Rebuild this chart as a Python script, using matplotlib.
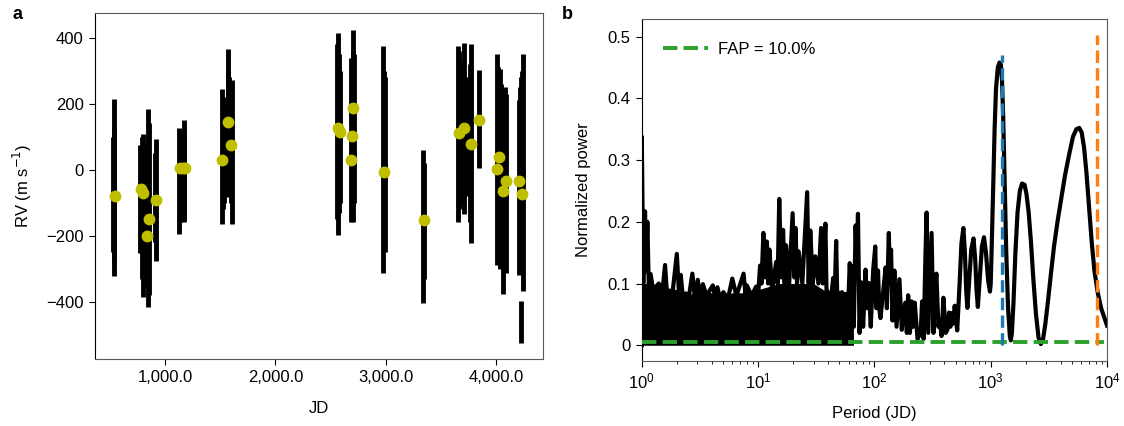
import numpy as np
import matplotlib
matplotlib.use("Agg")
import matplotlib.pyplot as plt
from matplotlib.ticker import FuncFormatter, FixedLocator

plt.rcParams['font.family'] = ['Liberation Sans', 'DejaVu Sans']
plt.rcParams['font.size'] = 12

# ---
# Panel a: RV measurements (black bars) and binned values (yellow dots)
# ---
bar_jd = [532, 536, 528, 534,
          770, 778, 790, 800, 812, 820, 846, 855, 838, 913, 908,
          1127, 1135, 1140, 1155, 1165, 1172,
          1518, 1524, 1530, 1567, 1573, 1580, 1603, 1596,
          2560, 2566, 2571, 2577, 2585, 2690, 2696, 2702, 2708, 2710,
          2980, 2986, 2990,
          3343, 3346,
          3660, 3668, 3676, 3690, 3700, 3713, 3730, 3774, 3768, 3849,
          4010, 4018, 4025, 4040, 4050, 4064, 4080, 4094, 4215, 4222, 4230, 4246, 4240, 4228]
bar_lo = [-321, -280, -250, -200,
          -254, -230, -330, -386, -300, -360, -416, -380, -330, -277, -220,
          -194, -160, -150, -130, -150, -159,
          -166, -120, -100, -83, -60, -50, -164, -100,
          -150, -120, -199, -130, -100, -159, -120, -159, -110, -100,
          -312, -240, -250,
          -404, -330,
          -159, -120, -110, -100, -90, -133, -80, -222, -160, 5,
          -290, -250, -250, -300, -260, -376, -300, -312, -320, -280, -300, -368, -300, -525]
bar_hi = [214, 130, 100, 60,
          74, 50, 100, 109, 80, 60, 185, 140, 100, 92, 50,
          127, 110, 100, 110, 120, 152,
          245, 220, 200, 365, 300, 280, 273, 230,
          380, 330, 415, 350, 300, 340, 300, 424, 360, 350,
          375, 300, 280,
          61, 20,
          374, 360, 320, 300, 330, 385, 280, 380, 320, 303,
          351, 310, 300, 306, 260, 200, 250, 228, 210, 250, 280, 352, 300, -399]

bin_jd = [543, 777, 800, 849, 831, 916, 1133, 1156, 1179, 1518, 1567, 1597,
          2571, 2586, 2707, 2692, 2683, 2986, 3346, 3668, 3710, 3771, 3849,
          4034, 4010, 4097, 4064, 4209, 4237]
bin_rv = [-80, -58, -71, -149, -201, -93, 5, 5, 5, 30, 144, 76,
          126, 114, 188, 102, 30, -7, -154, 111, 126, 78, 150,
          37, 2, -33, -65, -35, -73]

# ---
# Panel b: periodogram
# ---
floor_period = [1.0, 1.2, 1.5, 2.0, 2.5, 3.0, 4.0, 5.0, 6.0, 8.0, 10.0, 15.0,
                20.0, 30.0, 40.0, 50.0, 60.0, 66.0]
floor_power = [0.10, 0.10, 0.095, 0.09, 0.08, 0.09, 0.085, 0.08, 0.085, 0.085,
               0.09, 0.10, 0.10, 0.10, 0.085, 0.08, 0.08, 0.07]

period = [1.0, 1.0, 1.03, 1.066, 1.09, 1.116, 1.15, 1.19, 1.25, 1.4, 1.5, 1.585,
          1.65, 1.85, 2.0, 2.08, 2.16, 2.25, 2.39, 2.5, 2.72, 2.85, 3.03, 3.15,
          3.35, 3.6, 4.08, 4.25, 4.47, 4.7, 5.03, 5.5, 6.0, 6.5, 7.5, 7.8, 8.0,
          8.8, 9.6, 10.0, 10.4, 10.7, 11.1, 11.5, 11.9, 12.2, 12.5, 13.2, 14.3,
          14.7, 15.2, 15.8, 16.4, 16.9, 17.4, 18.5, 19.8, 20.5, 21.0, 21.6, 22.3,
          24.0, 26.4, 27.2, 28.1, 29.5, 31.0, 33.0, 34.8, 36.0, 37.9, 38.8, 39.6,
          42.0, 44.2, 45.5, 46.9, 48.0, 49.3, 51.0, 52.7, 54.5, 56.3, 59.0, 61.4,
          62.8, 64.2, 66.5, 68.9, 70.5, 72.2, 74.5, 77.1, 80.0, 83.9, 86.5, 89.3,
          93.0, 97.6, 101.7, 104.0, 107.4, 110.0, 112.7, 118.0, 124.7, 128.0,
          133.0, 136.0, 139.0, 143.0, 148.5, 155.0, 164.0, 172.0, 180.0, 185.0,
          190.0, 195.0, 202.0, 209.0, 215.0, 222.0, 235.0, 241.0, 250.0, 257.0,
          265.0, 275.0, 281.0, 290.0, 300.0, 310.0, 322.0, 330.0, 341.0, 355.0,
          364.0, 378.0, 392.0, 410.0, 424.0, 438.0, 450.0, 460.0, 475.0, 490.0,
          515.0, 540.0, 560.0, 582.0, 600.0, 615.0, 630.0, 650.0, 680.0, 711.0,
          735.0, 755.0, 775.0, 800.0, 840.0, 875.0, 910.0, 950.0, 985.0,
          1000.0, 1020.0, 1050.0, 1080.0, 1110.0, 1150.0, 1190.0, 1221.0, 1250.0,
          1280.0, 1320.0, 1360.0, 1410.0, 1460.0, 1489.0, 1520.0, 1570.0, 1630.0,
          1700.0, 1780.0, 1860.0, 1955.0, 2030.0, 2120.0, 2213.0, 2320.0, 2450.0,
          2580.0, 2700.0, 2820.0, 2950.0, 3100.0, 3290.0, 3500.0, 3750.0, 4015.0,
          4350.0, 4735.0, 5100.0, 5450.0, 5770.0, 6050.0, 6350.0, 6650.0, 7000.0,
          7400.0, 7800.0, 8320.0, 8900.0, 9480.0, 10000.0]
power = [0.0, 0.338, 0.10, 0.217, 0.12, 0.20, 0.09, 0.1155, 0.09, 0.10, 0.085, 0.13,
         0.08, 0.09, 0.148, 0.09, 0.114, 0.08, 0.084, 0.07, 0.116, 0.08, 0.106, 0.075,
         0.099, 0.08, 0.097, 0.08, 0.094, 0.075, 0.086, 0.075, 0.108, 0.08, 0.116, 0.08, 0.097,
         0.08, 0.095, 0.08, 0.129, 0.10, 0.182, 0.11, 0.168, 0.10, 0.155, 0.09, 0.135,
         0.10, 0.237, 0.11, 0.187, 0.10, 0.162, 0.10, 0.214, 0.11, 0.19, 0.10, 0.152,
         0.10, 0.248, 0.10, 0.186, 0.10, 0.144, 0.10, 0.19, 0.10, 0.197, 0.08, 0.087,
         0.07, 0.109, 0.08, 0.169, 0.07, 0.085, 0.06, 0.086, 0.06, 0.083, 0.05, 0.133,
         0.08, 0.128, 0.03, 0.194, 0.13, 0.213, 0.02, 0.102, 0.03, 0.1225, 0.06, 0.101,
         0.03, 0.122, 0.16, 0.06, 0.121, 0.06, 0.044, 0.08, 0.126, 0.06,
         0.182, 0.10, 0.155, 0.04, 0.121, 0.03, 0.107, 0.025, 0.06, 0.069,
         0.02, 0.081, 0.02, 0.071, 0.03, 0.069, 0.01, 0.0146, 0.02, 0.071,
         0.01, 0.15, 0.215, 0.02, 0.10, 0.182, 0.02, 0.08, 0.116, 0.03,
         0.042, 0.015, 0.077, 0.02, 0.025, 0.053, 0.03, 0.052, 0.035, 0.064,
         0.024, 0.10, 0.165, 0.19, 0.15, 0.09, 0.0605, 0.10, 0.155, 0.173,
         0.14, 0.09, 0.062, 0.10, 0.16, 0.175, 0.15, 0.105, 0.087,
         0.10, 0.16, 0.26, 0.35, 0.415, 0.45, 0.458, 0.455, 0.43,
         0.37, 0.26, 0.15, 0.06, 0.015, 0.008, 0.02, 0.07, 0.15,
         0.215, 0.25, 0.262, 0.26, 0.245, 0.215, 0.17, 0.11, 0.05,
         0.012, 0.002, 0.01, 0.035, 0.07, 0.115, 0.16, 0.20, 0.235,
         0.275, 0.31, 0.338, 0.35, 0.352, 0.345, 0.32, 0.28, 0.225,
         0.165, 0.12, 0.085, 0.06, 0.045, 0.032]

fap_level = 0.005
fap_label = 'FAP = 10.0%'
best_period = 1262
best_top = 0.47
long_period = 8150
long_top = 0.503

fig = plt.figure(figsize=(11.24, 4.26), dpi=100)

# %%
ax = fig.add_axes([0.0843, 0.158, 0.3986, 0.8115])
bar_jd = np.array(bar_jd)
bar_lo = np.array(bar_lo)
bar_hi = np.array(bar_hi)
mid = (bar_lo + bar_hi) / 2
ax.errorbar(bar_jd, mid, yerr=(bar_hi - bar_lo) / 2, fmt='.', color='k',
            ms=4, elinewidth=3.5, capsize=0, zorder=2)
ax.plot(bin_jd, bin_rv, 'o', color=(0.75, 0.75, 0.0), ms=7.5, zorder=3)
ax.set_xlim(359, 4427)
ax.set_ylim(-573, 475)
ax.xaxis.set_major_locator(FixedLocator([1000, 2000, 3000, 4000]))
ax.xaxis.set_major_formatter(FuncFormatter(lambda v, p: '{:,.1f}'.format(v)))
ax.yaxis.set_major_locator(FixedLocator([-400, -200, 0, 200, 400]))
ax.yaxis.set_major_formatter(FuncFormatter(lambda v, p: '{:g}'.format(v).replace('-', '\u2212')))
ax.set_xlabel('JD', fontsize=12, labelpad=12)
ax.set_ylabel('RV (m s$^{-1}$)', fontsize=12, labelpad=9)
fig.text(0.011, 0.955, 'a', fontsize=13, fontweight='bold')

# %%
ax2 = fig.add_axes([0.571, 0.1533, 0.4139, 0.8028])
ax2.fill_between(floor_period, 0, floor_power, color='k', lw=0, zorder=2)
ax2.plot(period, power, color='k', lw=3, solid_joinstyle='round', zorder=2)
ax2.plot([1, 9500], [fap_level, fap_level], '--', color='#2ca02c', lw=2.8,
         label=fap_label, zorder=3)
ax2.plot([best_period, best_period], [0, best_top], '--', color='#1f77b4', lw=2.4, zorder=3)
ax2.plot([long_period, long_period], [0, long_top], '--', color='#ff7f0e', lw=2.4, zorder=3)
ax2.set_xscale('log')
ax2.set_xlim(1, 1e4)
ax2.set_ylim(-0.025, 0.529)
ax2.yaxis.set_major_locator(FixedLocator([0, 0.1, 0.2, 0.3, 0.4, 0.5]))
ax2.yaxis.set_major_formatter(FuncFormatter(lambda v, p: '{:g}'.format(v)))
ax2.set_xlabel('Period (JD)', fontsize=12, labelpad=10)
ax2.set_ylabel('Normalized power', fontsize=12, labelpad=12)
ax2.legend(loc='center left', bbox_to_anchor=(0.045, 0.91), frameon=False,
           fontsize=12, handlelength=2.7, handletextpad=0.6, borderpad=0, borderaxespad=0)
fig.text(0.500, 0.955, 'b', fontsize=13, fontweight='bold')

for a in (ax, ax2):
    for s in a.spines.values():
        s.set_color('0.35')
    a.spines['left'].set_color('k')
    a.tick_params(direction='out', length=4, labelsize=12, pad=4)

fig.savefig('out.png', dpi=100)
